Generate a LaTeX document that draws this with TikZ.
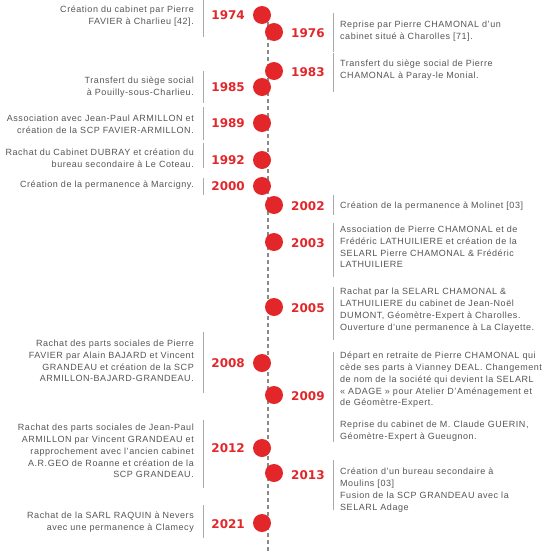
\documentclass[tikz,border=0pt]{standalone}
\usepackage{fontspec}
\setmainfont{Liberation Sans}[LetterSpace=6]
\newfontfamily\yearfont{DejaVu Sans}
\definecolor{tlred}{HTML}{E3262A}
\definecolor{tltext}{HTML}{555555}
\definecolor{tlbar}{HTML}{AAAAAA}
\definecolor{tldash}{HTML}{8A8A8A}
\tikzset{
  ltext/.style={anchor=east, align=right, inner sep=0pt, text=tltext, font=\fontsize{9}{11.8}\selectfont},
  rtext/.style={anchor=west, align=left, inner sep=0pt, text=tltext, font=\fontsize{9}{11.8}\selectfont},
  lyear/.style={anchor=east, inner sep=0pt, text=tlred, font=\yearfont\bfseries\fontsize{12}{12}\selectfont},
  ryear/.style={anchor=west, inner sep=0pt, text=tlred, font=\yearfont\bfseries\fontsize{12}{12}\selectfont},
  dot/.style={circle, fill=tlred, minimum size=18pt, inner sep=0pt},
  bar/.style={draw=tlbar, line width=1pt},
  axis/.style={draw=tldash, line width=2pt, dash pattern=on 4pt off 3pt}
}
\begin{document}
\begin{tikzpicture}[x=1pt,y=-1pt]
\useasboundingbox (0,0) rectangle (548,552);
% axis
\coordinate (top) at (268,15);
\coordinate (bottom) at (268,552);
\draw[axis] (top) -- (bottom);
% dots
\node[dot] (d1974) at (262,15) {};
\node[dot] (d1976) at (274,32) {};
\node[dot] (d1983) at (274,71) {};
\node[dot] (d1985) at (262,87) {};
\node[dot] (d1989) at (262,123) {};
\node[dot] (d1992) at (262,160) {};
\node[dot] (d2000) at (262,186) {};
\node[dot] (d2002) at (274,205) {};
\node[dot] (d2003) at (274,242) {};
\node[dot] (d2005) at (274,307) {};
\node[dot] (d2008) at (262,363) {};
\node[dot] (d2009) at (274,395) {};
\node[dot] (d2012) at (262,448) {};
\node[dot] (d2013) at (274,473) {};
\node[dot] (d2021) at (262,523) {};
% years
\node[lyear] (y1974) at (245,15) {1974};
\node[ryear] (y1976) at (291,33) {1976};
\node[ryear] (y1983) at (291,72) {1983};
\node[lyear] (y1985) at (245,87) {1985};
\node[lyear] (y1989) at (245,123) {1989};
\node[lyear] (y1992) at (245,160) {1992};
\node[lyear] (y2000) at (245,186) {2000};
\node[ryear] (y2002) at (291,206) {2002};
\node[ryear] (y2003) at (291,243) {2003};
\node[ryear] (y2005) at (291,308) {2005};
\node[lyear] (y2008) at (245,363) {2008};
\node[ryear] (y2009) at (291,396) {2009};
\node[lyear] (y2012) at (245,448) {2012};
\node[ryear] (y2013) at (291,475) {2013};
\node[lyear] (y2021) at (245,524) {2021};
% bars
\draw[bar] (203,0) -- (203,37);
\draw[bar] (203,71) -- (203,103);
\draw[bar] (203,107) -- (203,140);
\draw[bar] (203,143) -- (203,168);
\draw[bar] (203,178) -- (203,195);
\draw[bar] (203,332) -- (203,393);
\draw[bar] (203,420) -- (203,488);
\draw[bar] (203,505) -- (203,538);
\draw[bar] (333,13) -- (333,52);
\draw[bar] (333,53) -- (333,92);
\draw[bar] (333,195) -- (333,215);
\draw[bar] (333,223) -- (333,277);
\draw[bar] (333,287) -- (333,340);
\draw[bar] (333,352) -- (333,442);
\draw[bar] (333,460) -- (333,510);
% left texts
\node[ltext] (t1974) at (194,16) {Création du cabinet par Pierre\\FAVIER à Charlieu [42].};
\node[ltext] (t1985) at (194,87) {Transfert du siège social\\à Pouilly-sous-Charlieu.};
\node[ltext] (t1989) at (194,124) {Association avec Jean-Paul ARMILLON et\\création de la SCP FAVIER-ARMILLON.};
\node[ltext] (t1992) at (194,158) {Rachat du Cabinet DUBRAY et création du\\bureau secondaire à Le Coteau.};
\node[ltext] (t2000) at (194,185) {Création de la permanence à Marcigny.};
\node[ltext] (t2008) at (194,361) {Rachat des parts sociales de Pierre\\FAVIER par Alain BAJARD et Vincent\\GRANDEAU et création de la SCP\\ARMILLON-BAJARD-GRANDEAU.};
\node[ltext] (t2012) at (194,451) {Rachat des parts sociales de Jean-Paul\\ARMILLON par Vincent GRANDEAU et\\rapprochement avec l'ancien cabinet\\A.R.GEO de Roanne et création de la\\SCP GRANDEAU.};
\node[ltext] (t2021) at (194,522) {Rachat de la SARL RAQUIN à Nevers\\avec une permanence à Clamecy};
% right texts
\node[rtext] (t1976) at (340,31) {Reprise par Pierre CHAMONAL d'un\\cabinet situé à Charolles [71].};
\node[rtext] (t1983) at (340,70) {Transfert du siège social de Pierre\\CHAMONAL à Paray-le Monial.};
\node[rtext] (t2002) at (340,206) {Création de la permanence à Molinet [03]};
\node[rtext] (t2003) at (340,247) {Association de Pierre CHAMONAL et de\\Frédéric LATHUILIERE et création de la\\SELARL Pierre CHAMONAL \& Frédéric\\LATHUILIERE};
\node[rtext] (t2005) at (340,310) {Rachat par la SELARL CHAMONAL \&\\LATHUILIERE du cabinet de Jean-Noël\\DUMONT, Géomètre-Expert à Charolles.\\Ouverture d'une permanence à La Clayette.};
\node[rtext] (t2009) at (340,380) {Départ en retraite de Pierre CHAMONAL qui\\cède ses parts à Vianney DEAL. Changement\\de nom de la société qui devient la SELARL\\« ADAGE » pour Atelier D'Aménagement et\\de Géomètre-Expert.};
\node[rtext] (t2009b) at (340,431) {Reprise du cabinet de M. Claude GUERIN,\\Géomètre-Expert à Gueugnon.};
\node[rtext] (t2013) at (340,490) {Création d'un bureau secondaire à\\Moulins [03]\\Fusion de la SCP GRANDEAU avec la\\SELARL Adage};
\end{tikzpicture}
\end{document}
